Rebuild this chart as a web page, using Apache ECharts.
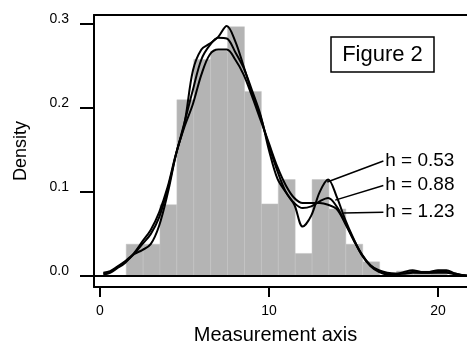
<!DOCTYPE html>
<html>
<head>
<meta charset="utf-8">
<script src="https://cdn.jsdelivr.net/npm/echarts@6/dist/echarts.min.js"></script>
<style>
  html, body { margin: 0; padding: 0; background: #fff; }
  #chart { width: 467px; height: 342px; }
</style>
</head>
<body>
<div id="chart"></div>
<script>
// histogram bins (left edge, right edge, density)
const binLeft = [1.55, 2.55, 3.55, 4.55, 5.55, 6.55, 7.55, 8.55, 9.55, 10.55,
  11.55, 12.55, 13.55, 14.55, 15.55, 17.55, 18.55, 19.55]
const binRight = [2.55, 3.55, 4.55, 5.55, 6.55, 7.55, 8.55, 9.55, 10.55, 11.55,
  12.55, 13.55, 14.55, 15.55, 16.55, 18.55, 19.55, 20.55]
const binDensity = [0.038, 0.038, 0.085, 0.21, 0.258, 0.268, 0.297, 0.22, 0.086, 0.115,
  0.027, 0.115, 0.08, 0.038, 0.017, 0.006, 0.006, 0.006]

// kernel density estimates
const kdeX = [0.2, 0.6, 1.0, 1.5, 2.0, 2.5, 3.0, 3.5, 4.0, 4.5, 5.0, 5.5, 6.0, 6.5, 7.0, 7.5,
  8.0, 8.5, 9.0, 9.5, 10.0, 10.5, 11.0, 11.5, 12.0, 12.5, 13.0, 13.5, 14.0, 14.5, 15.0,
  15.5, 16.0, 16.5, 17.0, 17.5, 18.0, 18.5, 19.0, 19.5, 20.0, 20.5, 21.0, 21.5, 22.0]
const kde053 = [0.004, 0.006, 0.011, 0.018, 0.026, 0.031, 0.038, 0.06, 0.098, 0.145, 0.182,
  0.245, 0.27, 0.277, 0.285, 0.298, 0.28, 0.25, 0.218, 0.19, 0.155, 0.125, 0.1, 0.085,
  0.059, 0.072, 0.1, 0.115, 0.095, 0.068, 0.045, 0.025, 0.012, 0.005, 0.002, 0.002,
  0.005, 0.007, 0.005, 0.005, 0.007, 0.007, 0.003, 0.001, 0.0]
const kde088 = [0.003, 0.005, 0.01, 0.017, 0.026, 0.038, 0.05, 0.07, 0.103, 0.145, 0.183,
  0.222, 0.258, 0.275, 0.284, 0.283, 0.267, 0.248, 0.221, 0.192, 0.15, 0.116, 0.1, 0.087,
  0.081, 0.083, 0.089, 0.093, 0.083, 0.064, 0.044, 0.026, 0.013, 0.006, 0.003, 0.002,
  0.003, 0.005, 0.004, 0.004, 0.005, 0.005, 0.003, 0.001, 0.0]
const kde123 = [0.002, 0.004, 0.009, 0.016, 0.027, 0.041, 0.055, 0.076, 0.106, 0.146, 0.178,
  0.205, 0.24, 0.264, 0.27, 0.27, 0.258, 0.24, 0.214, 0.186, 0.158, 0.13, 0.108, 0.093,
  0.087, 0.087, 0.087, 0.085, 0.08, 0.063, 0.043, 0.025, 0.013, 0.007, 0.004, 0.003,
  0.003, 0.004, 0.004, 0.004, 0.004, 0.004, 0.002, 0.001, 0.0]

const xTicks = [0, 10, 20]
const yTicks = [0, 0.1, 0.2, 0.3]

// bandwidth labels and where their leader lines touch the curves
const hLabels = ['h = 0.53', 'h = 0.88', 'h = 1.23']
const labelX = [16.77, 16.77, 16.77]
const labelY = [0.137, 0.108, 0.076]
const tipX = [13.45, 13.92, 14.4]
const tipY = [0.112, 0.0905, 0.075]

const FONT = '"Liberation Sans", Arial, Helvetica, sans-serif'
const X_MIN = -0.355
const X_MAX = 21.72

const chart = echarts.init(document.getElementById('chart'))

function kdeSeries(ys, i) {
  return {
    type: 'line',
    data: kdeX.map((x, k) => [x, ys[k]]),
    smooth: 0.35,
    symbol: 'none',
    clip: true,
    z: 3,
    lineStyle: { color: '#000', width: 2 },
    markLine: {
      silent: true,
      animation: false,
      symbol: ['none', 'none'],
      lineStyle: { color: '#000', width: 1.5, type: 'solid' },
      label: {
        show: true,
        position: 'start',
        distance: 2,
        formatter: hLabels[i],
        color: '#000',
        fontSize: 19,
        fontFamily: FONT
      },
      data: [[{ coord: [labelX[i], labelY[i]] }, { coord: [tipX[i], tipY[i]] }]]
    }
  }
}

const option = {
  animation: false,
  grid: {
    left: 94, top: 15, right: 0, bottom: 55,
    show: false,
    outerBoundsMode: 'none'
  },
  xAxis: [
    {
      type: 'value', min: X_MIN, max: X_MAX, position: 'bottom',
      splitLine: { show: false },
      axisLine: { show: true, onZero: false, lineStyle: { color: '#000', width: 2 } },
      axisTick: { show: true, customValues: xTicks, length: 10, lineStyle: { color: '#000', width: 2 } },
      axisLabel: { customValues: xTicks, margin: 17, fontSize: 14, color: '#000', fontFamily: FONT },
      name: 'Measurement axis', nameLocation: 'middle', nameGap: 38,
      nameTextStyle: { fontSize: 20, color: '#000', fontFamily: FONT, padding: [0, 10, 0, 0] }
    },
    {
      // top edge of the frame
      type: 'value', min: X_MIN, max: X_MAX, position: 'top',
      splitLine: { show: false },
      axisLine: { show: true, onZero: false, lineStyle: { color: '#000', width: 2 } },
      axisTick: { show: false },
      axisLabel: { show: false }
    }
  ],
  yAxis: {
    type: 'value', min: -0.013, max: 0.311,
    splitLine: { show: false },
    axisLine: { show: true, onZero: false, lineStyle: { color: '#000', width: 2 } },
    axisTick: { show: true, customValues: yTicks, length: 14, lineStyle: { color: '#000', width: 2 } },
    axisLabel: {
      customValues: yTicks, margin: 25, fontSize: 14, color: '#000', fontFamily: FONT,
      verticalAlign: 'bottom', lineHeight: 10,
      formatter: v => v.toFixed(1)
    },
    name: 'Density', nameLocation: 'middle', nameGap: 64,
    nameTextStyle: { fontSize: 18, color: '#000', fontFamily: FONT }
  },
  series: [
    {
      type: 'custom',
      data: binLeft.map((l, i) => [l, binRight[i], binDensity[i]]),
      encode: { x: [0, 1], y: 2 },
      clip: true,
      z: 1,
      renderItem: (params, api) => {
        const p0 = api.coord([api.value(0), api.value(2)])
        const p1 = api.coord([api.value(1), 0])
        return {
          type: 'rect',
          shape: { x: p0[0], y: p0[1], width: p1[0] - p0[0], height: p1[1] - p0[1] },
          style: { fill: '#b4b4b4', stroke: '#c4c4c4', lineWidth: 0.5 }
        }
      },
      markLine: {
        silent: true,
        animation: false,
        symbol: ['none', 'none'],
        z: 4,
        label: { show: false },
        lineStyle: { color: '#000', width: 2, type: 'solid' },
        data: [{ yAxis: 0 }]
      }
    },
    kdeSeries(kde053, 0),
    kdeSeries(kde088, 1),
    kdeSeries(kde123, 2)
  ],
  graphic: [
    {
      type: 'rect',
      shape: { x: 331, y: 37, width: 103, height: 35 },
      style: { fill: '#fff', stroke: '#000', lineWidth: 1.5 },
      z: 10
    },
    {
      type: 'text',
      x: 382.5, y: 55,
      style: {
        text: 'Figure 2', fill: '#000', fontSize: 22, fontFamily: FONT,
        align: 'center', verticalAlign: 'middle'
      },
      z: 11
    }
  ]
}

chart.setOption(option)
</script>
</body>
</html>
